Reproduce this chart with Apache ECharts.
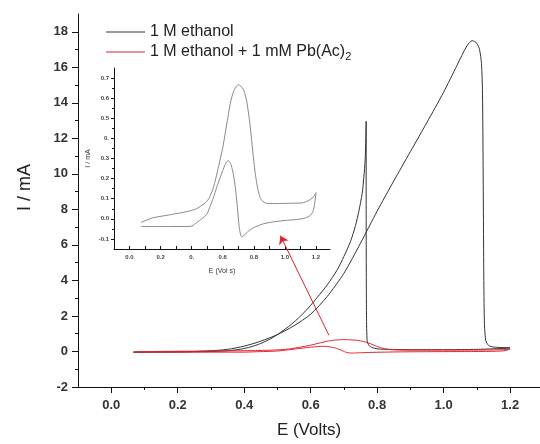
<!DOCTYPE html>
<html>
<head>
<meta charset="utf-8">
<script src="https://cdn.jsdelivr.net/npm/echarts@6/dist/echarts.min.js"></script>
<style>
  html, body { margin: 0; padding: 0; background: #fff; }
  #cvChart { width: 540px; height: 444px; }
</style>
</head>
<body>
<div id="cvChart"></div>
<script>
// ticks / labels
var xMajor = [0, 0.2, 0.4, 0.6, 0.8, 1.0, 1.2];
var xMinor = [0.1, 0.3, 0.5, 0.7, 0.9, 1.1];
var yMajor = [-2, 0, 2, 4, 6, 8, 10, 12, 14, 16, 18];
var yMinor = [-1, 1, 3, 5, 7, 9, 11, 13, 15, 17];
var insetXTicks = [0, 0.1, 0.2, 0.3, 0.4, 0.5, 0.6, 0.7, 0.8, 0.9, 1.0, 1.1, 1.2];
var insetYMajor = [-0.1, 0, 0.1, 0.2, 0.3, 0.4, 0.5, 0.6, 0.7];
var insetYMinor = [-0.05, 0.05, 0.15, 0.25, 0.35, 0.45, 0.55, 0.65];

// 1 M ethanol (forward then reverse scan)
var ethE = [0.066, 0.15, 0.25, 0.3, 0.35, 0.4, 0.45, 0.5, 0.55, 0.6, 0.65, 0.7, 0.75, 0.8, 0.85, 0.9, 0.95, 1.0, 1.04, 1.07, 1.086, 1.1, 1.108, 1.114, 1.117, 1.119, 1.121, 1.123, 1.127, 1.135, 1.15, 1.2,
  1.1, 1.0, 0.9, 0.83, 0.8, 0.785, 0.775, 0.77, 0.768, 0.767, 0.767, 0.766, 0.764, 0.76, 0.755, 0.745, 0.735, 0.72, 0.7, 0.68, 0.65, 0.62, 0.6, 0.57, 0.54, 0.51, 0.48, 0.45, 0.42, 0.39, 0.35, 0.3, 0.2, 0.066];
var ethI = [-0.03, -0.02, 0, 0.04, 0.12, 0.3, 0.58, 0.95, 1.45, 2.1, 3.1, 4.4, 6.1, 7.9, 9.6, 11.25, 12.9, 14.6, 16.1, 17.2, 17.5, 17.35, 17.0, 16.2, 14.5, 10, 4, 1.5, 0.6, 0.35, 0.25, 0.2,
  0.12, 0.1, 0.1, 0.12, 0.15, 0.22, 0.35, 0.6, 2, 8, 12.96, 12.0, 10.8, 9.8, 8.9, 7.9, 7.1, 6.2, 5.35, 4.6, 3.75, 3.05, 2.6, 2.0, 1.5, 1.08, 0.72, 0.45, 0.26, 0.13, 0.04, 0, -0.03, -0.04];

// 1 M ethanol + 1 mM Pb(Ac)2 (same data is shown magnified in the inset)
var pbE = [0.073, 0.15, 0.26, 0.37, 0.43, 0.48, 0.51, 0.54, 0.57, 0.6, 0.63, 0.65, 0.67, 0.69, 0.7, 0.715, 0.735, 0.755, 0.775, 0.795, 0.81, 0.825, 0.84, 0.86, 0.89, 0.95, 1.01, 1.07, 1.11, 1.15, 1.18, 1.2,
  1.19, 1.18, 1.16, 1.13, 1.08, 1.0, 0.92, 0.86, 0.8, 0.77, 0.75, 0.735, 0.722, 0.712, 0.705, 0.698, 0.69, 0.68, 0.668, 0.655, 0.645, 0.636, 0.625, 0.615, 0.6, 0.583, 0.56, 0.54, 0.52, 0.497, 0.465, 0.433, 0.401, 0.35, 0.26, 0.15, 0.073];
var pbI = [-0.018, 0.005, 0.02, 0.036, 0.05, 0.075, 0.1, 0.156, 0.25, 0.355, 0.49, 0.58, 0.635, 0.662, 0.667, 0.66, 0.64, 0.58, 0.47, 0.32, 0.22, 0.15, 0.106, 0.085, 0.076, 0.076, 0.077, 0.078, 0.079, 0.09, 0.106, 0.13,
  0.07, 0.035, 0.015, 0.004, -0.003, -0.008, -0.016, -0.025, -0.043, -0.058, -0.072, -0.083, -0.09, -0.07, -0.035, 0.02, 0.09, 0.16, 0.222, 0.265, 0.283, 0.289, 0.283, 0.27, 0.24, 0.205, 0.155, 0.106, 0.065, 0.023, 0, -0.018, -0.036, -0.038, -0.038, -0.038, -0.038];

// red arrow pointing to the inset [E, I]
var arrowTail = [0.655, 0.91];
var arrowHead = [0.509, 6.52];

var nameEth = '1 M ethanol';
var namePb = '1 M ethanol + 1 mM Pb(Ac)2';
var font = 'Liberation Sans, Arial, sans-serif';

function pairs(xs, ys) {
  var out = [];
  for (var i = 0, len = xs.length; i < len; i++) {
    out.push([xs[i], ys[i]]);
  }
  return out;
}

function insetLabel(v) {
  // the small labels of the inset lost their "4" in the original scan
  if (Math.abs(v - 0.4) < 1e-9) return '0.';
  return v.toFixed(1);
}

var myChart = echarts.init(document.getElementById('cvChart'), null, { renderer: 'canvas' });

var option = {
  animation: false,
  backgroundColor: '#fff',
  textStyle: { fontFamily: font },
  legend: {
    data: [nameEth, namePb],
    orient: 'vertical',
    left: 101,
    top: 19,
    icon: 'rect',
    itemWidth: 39,
    itemHeight: 1,
    itemGap: 4,
    formatter: function(name) {
      return name.replace(/\)2$/, '){sub|2}');
    },
    textStyle: {
      fontSize: 16,
      color: '#222',
      fontFamily: font,
      rich: {
        sub: { fontSize: 11, color: '#222', fontFamily: font, padding: [9, 0, 0, 0] }
      }
    }
  },
  grid: [
    { left: 78, top: 14, right: 0, bottom: 55, containLabel: false },
    { left: 114, top: 68, right: 210, bottom: 195, containLabel: false }
  ],
  xAxis: [{
    gridIndex: 0,
    type: 'value',
    min: -0.1,
    max: 1.29,
    name: 'E (Volts)',
    nameLocation: 'middle',
    nameGap: 35,
    nameTextStyle: { fontSize: 17, color: '#222' },
    axisLine: { onZero: false, lineStyle: { color: '#111', width: 1 } },
    axisTick: { customValues: xMajor, length: 6, lineStyle: { color: '#111' } },
    axisLabel: {
      customValues: xMajor,
      margin: 12,
      fontSize: 13,
      fontWeight: 'bold',
      color: '#333',
      formatter: function(v) { return v.toFixed(1); }
    },
    splitLine: { show: false }
  }, {
    gridIndex: 0,
    type: 'value',
    min: -0.1,
    max: 1.29,
    position: 'bottom',
    axisLine: { show: false, onZero: false },
    axisTick: { customValues: xMinor, length: 3, lineStyle: { color: '#111' } },
    axisLabel: { show: false },
    splitLine: { show: false }
  }, {
    gridIndex: 1,
    type: 'value',
    min: -0.1,
    max: 1.29,
    name: 'E (Vol s)',
    nameLocation: 'middle',
    nameGap: 19,
    nameTextStyle: { fontSize: 7, color: '#333' },
    axisLine: { onZero: false, lineStyle: { color: '#111', width: 1 } },
    axisTick: { customValues: insetXTicks, inside: true, length: 3, lineStyle: { color: '#111' } },
    axisLabel: {
      customValues: xMajor,
      margin: 5,
      fontSize: 6,
      fontWeight: 'bold',
      color: '#444',
      formatter: insetLabel
    },
    splitLine: { show: false }
  }],
  yAxis: [{
    gridIndex: 0,
    type: 'value',
    min: -2,
    max: 19,
    name: 'I / mA',
    nameLocation: 'middle',
    nameGap: 44,
    nameRotate: 90,
    nameTextStyle: { fontSize: 18, color: '#222', padding: [0, 0, 0, 26] },
    axisLine: { show: true, onZero: false, lineStyle: { color: '#111', width: 1 } },
    axisTick: { show: true, customValues: yMajor, length: 6, lineStyle: { color: '#111' } },
    axisLabel: { customValues: yMajor, margin: 10, fontSize: 13, fontWeight: 'bold', color: '#333' },
    splitLine: { show: false }
  }, {
    gridIndex: 0,
    type: 'value',
    min: -2,
    max: 19,
    position: 'left',
    axisLine: { show: false, onZero: false },
    axisTick: { show: true, customValues: yMinor, length: 3, lineStyle: { color: '#111' } },
    axisLabel: { show: false },
    splitLine: { show: false }
  }, {
    gridIndex: 1,
    type: 'value',
    min: -0.15,
    max: 0.75,
    name: 'I / mA',
    nameLocation: 'middle',
    nameGap: 22,
    nameRotate: 90,
    nameTextStyle: { fontSize: 7, color: '#333' },
    axisLine: { show: true, onZero: false, lineStyle: { color: '#111', width: 1 } },
    axisTick: { show: true, customValues: insetYMajor, length: 3, lineStyle: { color: '#111' } },
    axisLabel: { customValues: insetYMajor, margin: 5, fontSize: 6, fontWeight: 'bold', color: '#444', formatter: insetLabel },
    splitLine: { show: false }
  }, {
    gridIndex: 1,
    type: 'value',
    min: -0.15,
    max: 0.75,
    position: 'left',
    axisLine: { show: false, onZero: false },
    axisTick: { show: true, customValues: insetYMinor, length: 2, lineStyle: { color: '#111' } },
    axisLabel: { show: false },
    splitLine: { show: false }
  }],
  series: [{
    name: nameEth,
    type: 'line',
    xAxisIndex: 0,
    yAxisIndex: 0,
    data: pairs(ethE, ethI),
    symbol: 'none',
    smooth: 0.25,
    color: '#333',
    lineStyle: { color: '#333', width: 1 },
    z: 3
  }, {
    name: namePb,
    type: 'line',
    xAxisIndex: 0,
    yAxisIndex: 0,
    data: pairs(pbE, pbI),
    symbol: 'none',
    smooth: 0.2,
    color: '#e2232b',
    lineStyle: { color: '#e2232b', width: 1 },
    z: 4,
    markLine: {
      silent: true,
      symbol: ['none', 'arrow'],
      symbolSize: 8,
      label: { show: false },
      lineStyle: { color: '#e2232b', width: 1, type: 'solid' },
      data: [[{ coord: arrowTail }, { coord: arrowHead }]]
    }
  }, {
    name: 'inset',
    type: 'line',
    xAxisIndex: 2,
    yAxisIndex: 2,
    data: pairs(pbE, pbI),
    symbol: 'none',
    smooth: 0.2,
    color: '#888',
    lineStyle: { color: '#888', width: 1 }
  }]
};

myChart.setOption(option);
</script>
</body>
</html>
